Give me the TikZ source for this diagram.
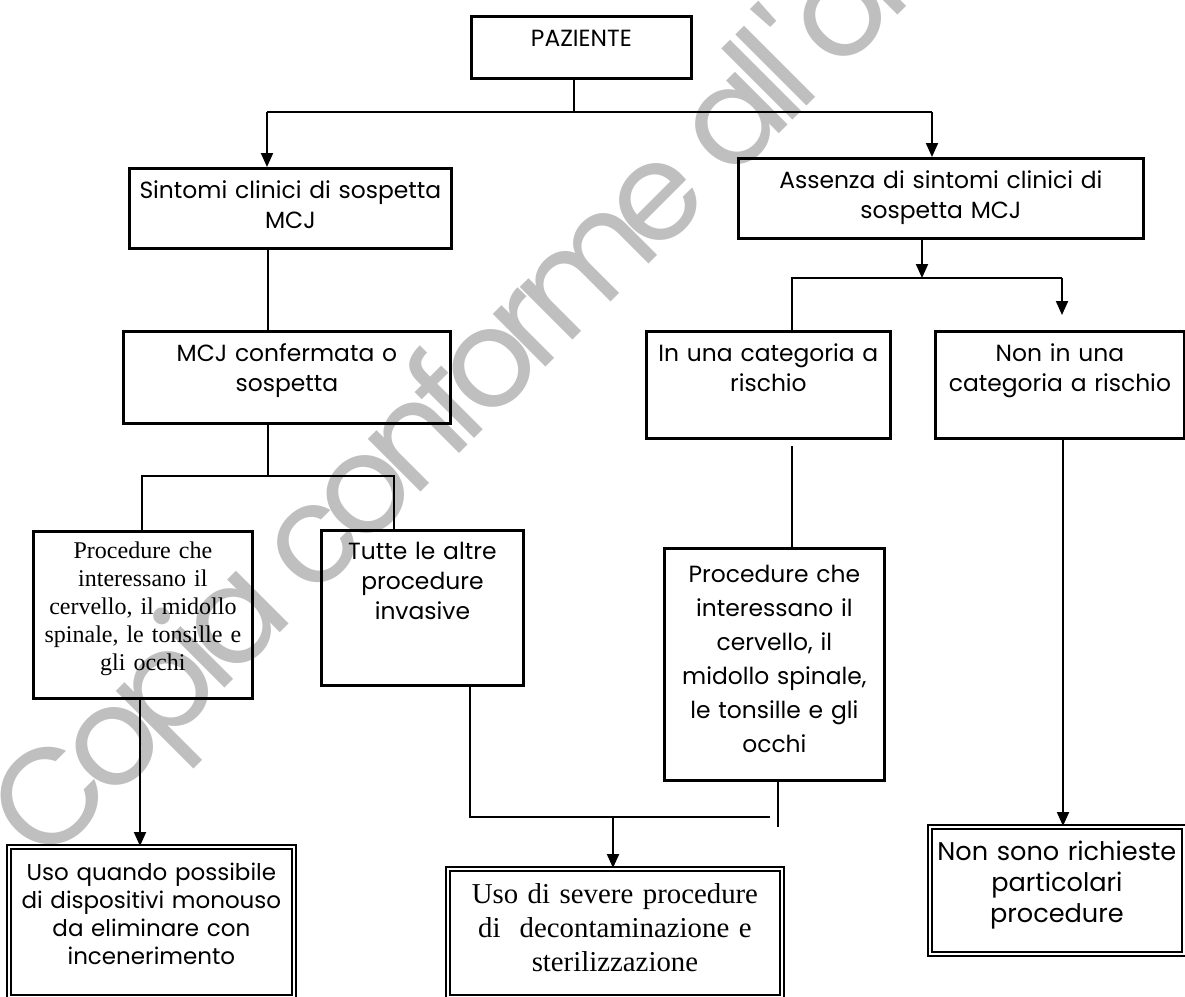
\documentclass[tikz,border=0pt]{standalone}
\usepackage{fontspec}
\setmainfont{Poppins}
\newfontfamily\timesfont{Liberation Serif}
\newfontfamily\wmfont[LetterSpace=-10]{Poppins}
\usetikzlibrary{arrows.meta,positioning}

\tikzset{
  box/.style 2 args={draw, line width=1.4pt, anchor=north west, align=center,
    text width=#1, text depth=#2, text height=15pt, font=\fontsize{11.7}{15}\selectfont},
  dbox/.style={double, double distance=1.3pt, line width=0.9pt},
  serif/.style 2 args={font=\timesfont\fontsize{#1}{#2}\selectfont},
  conn/.style={line width=1pt},
  arr/.style={line width=1pt, -{Triangle[length=7pt,width=6pt]}},
  wmark/.style={text=black!25, font=\wmfont\fontsize{68}{68}\selectfont}
}

\begin{document}
\begin{tikzpicture}[x=0.5pt,y=-0.5pt,inner sep=0pt]
\useasboundingbox (0,0) rectangle (1185,997);

% watermark
\begin{scope}
\clip (0,0) rectangle (1185,997);
\node (wm) at (45,868) [wmark, rotate=45, anchor=base west] {Copia conforme all\textquotesingle originale};
\end{scope}

% boxes
\node (paz) at (470,15) [box={110pt}{16pt}] {PAZIENTE};
\node (sint) at (128,167) [box={161pt}{25pt}] {Sintomi clinici di sospetta\\MCJ};
\node (ass) at (737,157) [box={202.5pt}{25pt}] {Assenza di sintomi clinici di\\sospetta MCJ};
\node (conf) at (122,330) [box={163.5pt}{31pt}] {MCJ confermata o\\sospetta};
\node (incat) at (645,330) [box={122pt}{38.5pt}] {In una categoria a\\rischio};
\node (noncat) at (934,330) [box={124.5pt}{38.5pt}] {Non in una\\categoria a rischio};
\node (procL) at (32,530) [box={109.5pt}{70pt}, serif={12}{14}, text height=13.5pt]
  {Procedure che\\interessano il\\cervello, il midollo\\spinale, le tonsille e\\gli occhi};
\node (tutte) at (320,529) [box={101pt}{63pt}, text height=14.5pt] {Tutte le altre\\procedure\\invasive};
\node (procR) at (663,547) [box={110pt}{99pt}, text height=17pt, font=\fontsize{11.7}{17}\selectfont]
  {Procedure che\\interessano il\\cervello, il\\midollo spinale,\\le tonsille e gli\\occhi};
\node (usoL) at (8,846) [box={142.5pt}{58pt}, dbox, text height=17pt, font=\fontsize{11.5}{14}\selectfont]
  {Uso quando possibile\\di dispositivi monouso\\da eliminare con\\incenerimento};
\node (usoC) at (447,868) [box={167pt}{46.5pt}, dbox, serif={14.4}{17}, text height=17.5pt]
  {Uso di severe procedure\\di\ \ decontaminazione e\\sterilizzazione};
\node (nonsono) at (929,826) [box={127pt}{46.5pt}, dbox, text height=17pt, font=\fontsize{12.8}{15.5}\selectfont]
  {Non sono richieste\\particolari\\procedure};

% junctions
\coordinate (j0) at (574,112);
\coordinate (jL) at (267,112);
\coordinate (jR) at (932,112);
\coordinate (c1) at (268,476);
\coordinate (c1L) at (142,476);
\coordinate (c1R) at (394,476);
\coordinate (c2) at (922,278);
\coordinate (c2L) at (792,278);
\coordinate (c2R) at (1062,278);
\coordinate (c2e) at (1062,315);
\coordinate (r1) at (792,446);
\coordinate (r2) at (778,827);
\coordinate (m1) at (470,817);
\coordinate (m2) at (770,817);
\coordinate (m3) at (613,817);
\coordinate (l1) at (140,700);
\coordinate (n1) at (1063,500);

% connectors
\draw[conn] (paz.south -| j0) -- (j0);
\draw[conn] (jL) -- (jR);
\draw[arr] (jL) -- (jL |- sint.north);
\draw[arr] (jR) -- (jR |- ass.north);
\draw[conn] (sint.south -| c1) -- (conf.north -| c1);
\draw[conn] (conf.south -| c1) -- (c1);
\draw[conn] (procL.north -| c1L) -- (c1L) -- (c1R) -- (tutte.north -| c1R);
\draw[arr] (ass.south -| c2) -- (c2);
\draw[conn] (incat.north -| c2L) -- (c2L) -- (c2R);
\draw[arr] (c2R) -- (c2e);
\draw[conn] (r1) -- (r1 |- procR.north);
\draw[conn] (r2 |- procR.south) -- (r2);
\draw[conn] (tutte.south -| m1) -- (m1) -- (m2);
\draw[arr] (m3) -- (usoC.north -| m3);
\draw[arr] (procL.south -| l1) -- (usoL.north -| l1);
\draw[arr] (noncat.south -| n1) -- (nonsono.north -| n1);

\end{tikzpicture}
\end{document}
